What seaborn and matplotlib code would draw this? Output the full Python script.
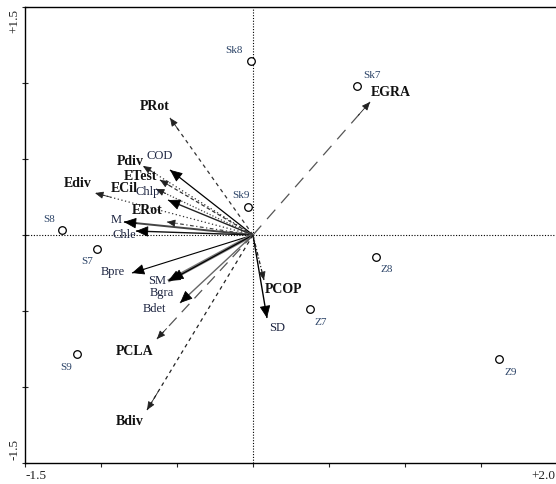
import matplotlib
matplotlib.use("Agg")
import matplotlib.pyplot as plt
import seaborn as sns
import pandas as pd

# Sample scores (ordination axes 1 and 2)
site_names = ["Sk8", "Sk7", "Sk9", "S8", "S7", "S9", "Z8", "Z7", "Z9"]
site_ax1 = [-0.013, 0.684, -0.033, -1.257, -1.026, -1.158, 0.809, 0.375, 1.618]
site_ax2 = [1.145, 0.980, 0.184, 0.033, -0.092, -0.783, -0.145, -0.487, -0.816]

# Response variables (solid arrows)
resp_names = ["COD", "Chlp", "M", "Chle", "Bpre", "SM", "Bgra", "Bdet", "SD"]
resp_ax1 = [-0.546, -0.559, -0.849, -0.770, -0.796, -0.559, -0.539, -0.480, 0.092]
resp_ax2 = [0.428, 0.230, 0.086, 0.026, -0.250, -0.303, -0.296, -0.447, -0.546]

# Explanatory variables (dashed arrows)
expl_names = ["PRot", "Pdiv", "ETest", "ECil", "Ediv", "ERot", "PCLA", "Bdiv", "PCOP", "EGRA"]
expl_ax1 = [-0.546, -0.724, -0.612, -0.638, -1.039, -0.566, -0.632, -0.697, 0.072, 0.770]
expl_ax2 = [0.770, 0.454, 0.362, 0.303, 0.276, 0.086, -0.684, -1.151, -0.296, 0.875]

sites = pd.DataFrame({"name": site_names, "ax1": site_ax1, "ax2": site_ax2})

sns.set_style("white")
plt.rcParams["font.family"] = ["Liberation Serif", "DejaVu Serif"]

fig = plt.figure(figsize=(5.56, 4.84), dpi=100)
ax = fig.add_axes([25 / 556, 21 / 484, 532 / 556, 456 / 484])
ax.set_xlim(-1.5, 2.0)
ax.set_ylim(-1.5, 1.5)

# frame: left, top and bottom only
for side in ["left", "top", "bottom"]:
    ax.spines[side].set_visible(True)
    ax.spines[side].set_color("black")
    ax.spines[side].set_linewidth(1.0)
ax.spines["right"].set_visible(False)

ax.set_xticks([-1.5, -1.0, -0.5, 0.0, 0.5, 1.0, 1.5, 2.0])
ax.set_yticks([-1.5, -1.0, -0.5, 0.0, 0.5, 1.0, 1.5])
ax.tick_params(axis="x", direction="out", length=3, width=0.8, labelbottom=False, bottom=True)
ax.tick_params(axis="y", direction="inout", length=4, width=0.8, labelleft=False, left=True)
ax.set_xlabel("")
ax.set_ylabel("")

tick_kw = dict(fontsize=9.5, color="#222222")
ax.annotate("+1.5", xy=(0, 1), xycoords="axes fraction", xytext=(-11, -2),
            textcoords="offset pixels", rotation=90, ha="center", va="top", **tick_kw)
ax.annotate("-1.5", xy=(0, 0), xycoords="axes fraction", xytext=(-11, 3),
            textcoords="offset pixels", rotation=90, ha="center", va="bottom", **tick_kw)
ax.annotate("-1.5", xy=(0, 0), xycoords="axes fraction", xytext=(0, -7),
            textcoords="offset pixels", ha="left", va="top", **tick_kw)
ax.annotate("+2.0", xy=(1, 0), xycoords="axes fraction", xytext=(-2, -7),
            textcoords="offset pixels", ha="right", va="top", **tick_kw)

# zero lines
ax.axhline(0, color="black", lw=0.8, ls=(0, (1, 1.5)), zorder=1)
ax.axvline(0, color="black", lw=0.8, ls=(0, (1, 1.5)), zorder=1)


def draw_arrow(x, y, color, lw, ls, head_scale, head_color):
    ax.plot([0, x], [0, y], color=color, lw=lw, ls=ls, zorder=2,
            solid_capstyle="butt", dash_capstyle="butt")
    ax.annotate("", xy=(x, y), xytext=(x * 0.9, y * 0.9),
                arrowprops=dict(arrowstyle="-|>,head_length=0.55,head_width=0.24",
                                mutation_scale=head_scale, color=head_color,
                                lw=0.6, shrinkA=0, shrinkB=0), zorder=3)


resp_style = {
    "COD": ("black", 0.9), "Chlp": ("#222222", 1.0), "M": ("#444444", 1.4),
    "Chle": ("#111111", 1.0), "Bpre": ("black", 0.8), "SM": ("#777777", 2.4),
    "Bgra": ("black", 0.9), "Bdet": ("#666666", 1.0), "SD": ("black", 1.0),
}
for n, x, y in zip(resp_names, resp_ax1, resp_ax2):
    c, lw = resp_style[n]
    draw_arrow(x, y, c, lw, "-", 14, "black")

expl_style = {
    "PRot": ("#333333", (0, (3, 3))), "Pdiv": ("#333333", (0, (1, 2))),
    "ETest": ("#333333", (0, (3, 2))), "ECil": ("#444444", (0, (1, 1.5))),
    "Ediv": ("#333333", (0, (1, 2))), "ERot": ("#444444", (0, (3, 2, 1, 2))),
    "PCLA": ("#555555", (0, (9, 6))), "Bdiv": ("#222222", (0, (3, 3))),
    "PCOP": ("#222222", (0, (3, 1.5, 1, 1.5))), "EGRA": ("#555555", (0, (10, 7))),
}
for n, x, y in zip(expl_names, expl_ax1, expl_ax2):
    c, ls = expl_style[n]
    draw_arrow(x, y, c, 0.9, ls, 9, "#222222")

# label offsets in pixels from the arrow tip / sample point
resp_off = {
    "COD": (-10, 14), "Chlp": (-20, 8), "M": (-8, 2), "Chle": (-12, -4),
    "Bpre": (-19, 1), "SM": (-11, 0), "Bgra": (-9, -13), "Bdet": (-26, -6),
    "SD": (10, -10),
}
expl_off = {
    "PRot": (-15, 11), "Pdiv": (-13, 4), "ETest": (-19, 3), "ECil": (-32, 0),
    "Ediv": (-17, 10), "ERot": (-20, 11), "PCLA": (-22, -13), "Bdiv": (-17, -12),
    "PCOP": (20, -10), "EGRA": (21, 10),
}
site_off = {
    "Sk8": (-17, 10), "Sk7": (15, 11), "Sk9": (-7, 12), "S8": (-13, 10),
    "S7": (-10, -13), "S9": (-11, -13), "Z8": (11, -12), "Z7": (11, -13),
    "Z9": (12, -13),
}

for n, x, y in zip(resp_names, resp_ax1, resp_ax2):
    ax.annotate(n, xy=(x, y), xytext=resp_off[n], textcoords="offset pixels",
                ha="center", va="center", fontsize=9, color="#1c2440", zorder=5)
for n, x, y in zip(expl_names, expl_ax1, expl_ax2):
    ax.annotate(n, xy=(x, y), xytext=expl_off[n], textcoords="offset pixels",
                ha="center", va="center", fontsize=10, fontweight="bold",
                color="#111111", zorder=5)

sns.scatterplot(data=sites, x="ax1", y="ax2", ax=ax, marker="o", s=30,
                facecolor="white", edgecolor="black", linewidth=0.9, zorder=4,
                legend=False)
ax.set_xlabel("")
ax.set_ylabel("")
for n, x, y in zip(site_names, site_ax1, site_ax2):
    ax.annotate(n, xy=(x, y), xytext=site_off[n], textcoords="offset pixels",
                ha="center", va="center", fontsize=8, color="#2c4468", zorder=5)

fig.savefig("out.png", dpi=100)
